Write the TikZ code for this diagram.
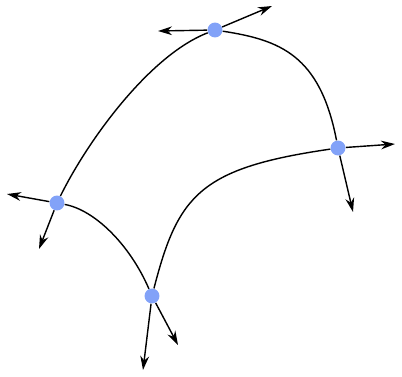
\documentclass[tikz,border=0pt]{standalone}
\usetikzlibrary{arrows.meta}
\definecolor{punktblau}{RGB}{130,162,248}
\tikzset{
    punkt/.style={circle, fill=punktblau, inner sep=0pt, minimum size=8.5pt},
    kante/.style={line width=0.8pt},
    pfeil/.style={line width=0.8pt, -{Stealth[length=8pt,width=5pt]}}
}

\begin{document}
\begin{tikzpicture}[x=0.02cm, y=-0.02cm]
    \useasboundingbox (0,0) rectangle (402,376);
    \path node[punkt] (A) at (215,30) {}
        node[punkt] (B) at (338,148) {}
        node[punkt] (C) at (152,296) {}
        node[punkt] (D) at (57,203) {}
        coordinate (A1) at (158,31)
        coordinate (A2) at (272,6)
        coordinate (B1) at (395,144)
        coordinate (B2) at (353,212)
        coordinate (C1) at (143,370)
        coordinate (C2) at (178,345)
        coordinate (D1) at (7,194)
        coordinate (D2) at (39,249);
       \draw[kante] (D) .. controls (88,140) and (150,55) .. (A);
       \draw[kante] (A) .. controls (280,40) and (320,55) .. (B);
       \draw[kante] (D) .. controls (95,210) and (130,245) .. (C);
       \draw[kante] (C) .. controls (178,195) and (200,168) .. (B);
       \draw[pfeil] (A) -- (A1);
       \draw[pfeil] (A) -- (A2);
       \draw[pfeil] (B) -- (B1);
       \draw[pfeil] (B) -- (B2);
       \draw[pfeil] (C) -- (C1);
       \draw[pfeil] (C) -- (C2);
       \draw[pfeil] (D) -- (D1);
       \draw[pfeil] (D) -- (D2);
    \end{tikzpicture}
\end{document}
